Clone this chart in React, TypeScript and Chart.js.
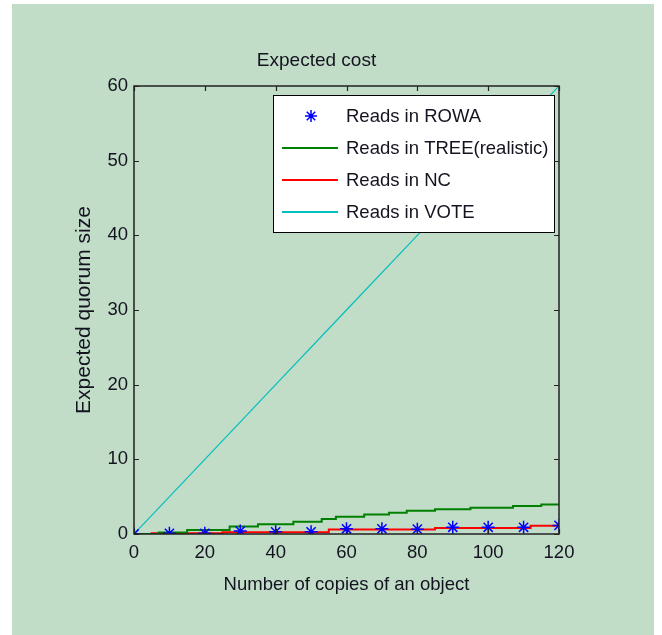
import React, { useEffect, useRef } from "react";
import { Chart, registerables } from "chart.js";

Chart.register(...registerables);

const FONT = "'Liberation Sans', Arial, Helvetica, sans-serif";
const TEXT = "#141420";

const TITLE = "Expected cost";
const X_TITLE = "Number of copies of an object";
const Y_TITLE = "Expected quorum size";

const X_TICKS = [0, 20, 40, 60, 80, 100, 120];
const Y_TICKS = [0, 10, 20, 30, 40, 50, 60];

const ROWA_X = [0, 10, 20, 30, 40, 50, 60, 70, 80, 90, 100, 110, 120];
const ROWA_READS = [0, 0.1, 0.1, 0.4, 0.3, 0.3, 0.7, 0.7, 0.65, 0.9, 0.9, 0.9, 1.15];

const TREE_X = [0, 7, 15, 27, 35, 45, 53, 57, 65, 72, 77, 85, 95, 107, 115, 120];
const TREE_READS = [0, 0.2, 0.55, 1.0, 1.3, 1.65, 2.0, 2.3, 2.6, 2.85, 3.1, 3.3, 3.5, 3.75, 3.95, 3.95];

const NC_X = [0, 5, 25, 55, 85, 112, 120];
const NC_READS = [0, 0.1, 0.25, 0.6, 0.8, 1.1, 1.1];

const VOTE_X = [0, 20, 40, 60, 80, 100, 120];
const VOTE_READS = [0, 10, 20, 30, 40, 50, 60];

const LABELS = ["Reads in ROWA", "Reads in TREE(realistic)", "Reads in NC", "Reads in VOTE"];
const COLORS = ["#0000ff", "#008000", "#ff0000", "#00bfbf"];

const pairs = (xs: number[], ys: number[]) => xs.map((x, i) => ({ x, y: ys[i] }));

const framePlugin = {
  id: "matlabFrame",
  afterDatasetsDraw(chart: any) {
    const { ctx, chartArea: a } = chart;
    ctx.save();
    const L = a.left + 139;
    const T = a.top + 9;
    const R = a.right - 5;
    const B = a.top + 146;
    ctx.fillStyle = "#ffffff";
    ctx.fillRect(L, T, R - L, B - T);
    ctx.strokeStyle = "#000";
    ctx.lineWidth = 1;
    ctx.strokeRect(L + 0.5, T + 0.5, R - L, B - T);
    chart.data.datasets.forEach((ds: any, i: number) => {
      const yy = T + 21 + i * 32;
      if (ds.showLine === false) {
        const cx = L + 38;
        const r = 6;
        ctx.strokeStyle = ds.borderColor;
        ctx.lineWidth = 1.5;
        ctx.beginPath();
        ctx.moveTo(cx - r, yy); ctx.lineTo(cx + r, yy);
        ctx.moveTo(cx, yy - r); ctx.lineTo(cx, yy + r);
        const d = r * 0.7071;
        ctx.moveTo(cx - d, yy - d); ctx.lineTo(cx + d, yy + d);
        ctx.moveTo(cx - d, yy + d); ctx.lineTo(cx + d, yy - d);
        ctx.stroke();
      } else {
        ctx.strokeStyle = ds.borderColor;
        ctx.lineWidth = 2;
        ctx.beginPath();
        ctx.moveTo(L + 9, yy);
        ctx.lineTo(L + 65, yy);
        ctx.stroke();
      }
      ctx.fillStyle = TEXT;
      ctx.font = `18.5px ${FONT}`;
      ctx.textBaseline = "middle";
      ctx.textAlign = "left";
      ctx.fillText(ds.label, L + 73, yy + 1);
    });
    ctx.restore();
  },
  afterDraw(chart: any) {
    const { ctx, chartArea: a, scales } = chart;
    ctx.save();
    ctx.strokeStyle = "#222";
    ctx.lineWidth = 1.5;
    ctx.strokeRect(a.left, a.top, a.right - a.left, a.bottom - a.top);
    const tl = 5;
    ctx.lineWidth = 1.2;
    ctx.beginPath();
    scales.x.ticks.forEach((t: any) => {
      const px = Math.round(scales.x.getPixelForValue(t.value)) + 0.5;
      ctx.moveTo(px, a.bottom); ctx.lineTo(px, a.bottom - tl);
      ctx.moveTo(px, a.top); ctx.lineTo(px, a.top + tl);
    });
    scales.y.ticks.forEach((t: any) => {
      const py = Math.round(scales.y.getPixelForValue(t.value)) + 0.5;
      ctx.moveTo(a.left, py); ctx.lineTo(a.left + tl, py);
      ctx.moveTo(a.right, py); ctx.lineTo(a.right - tl, py);
    });
    ctx.stroke();
    ctx.restore();
  },
};

export default function App() {
  const ref = useRef<HTMLCanvasElement | null>(null);
  useEffect(() => {
    if (!ref.current) return;
    const chart = new Chart(ref.current, {
      type: "line",
      data: {
        datasets: [
          {
            label: LABELS[0],
            data: pairs(ROWA_X, ROWA_READS),
            showLine: false,
            borderColor: COLORS[0],
            backgroundColor: COLORS[0],
            pointStyle: "star",
            pointRadius: 6.5,
            pointBorderWidth: 1.5,
          },
          {
            label: LABELS[1],
            data: pairs(TREE_X, TREE_READS),
            borderColor: COLORS[1],
            borderWidth: 2,
            stepped: "before",
            pointRadius: 0,
          },
          {
            label: LABELS[2],
            data: pairs(NC_X, NC_READS),
            borderColor: COLORS[2],
            borderWidth: 2,
            stepped: "before",
            pointRadius: 0,
          },
          {
            label: LABELS[3],
            data: pairs(VOTE_X, VOTE_READS),
            borderColor: COLORS[3],
            borderWidth: 1.2,
            pointRadius: 0,
          },
        ],
      } as any,
      options: {
        animation: false,
        responsive: false,
        maintainAspectRatio: false,
        layout: { padding: { left: 74, right: 103, top: 0, bottom: 41 } },
        plugins: {
          legend: { display: false },
          tooltip: { enabled: false },
          title: {
            display: true,
            text: TITLE,
            color: TEXT,
            font: { family: FONT, size: 19, weight: "normal", lineHeight: 1 },
            padding: { top: 51, bottom: 16 },
          },
        },
        scales: {
          x: {
            type: "linear",
            min: 0,
            max: 120,
            afterBuildTicks: (s: any) => { s.ticks = X_TICKS.map((v) => ({ value: v })); },
            afterFit: (s: any) => { s.height = 60; },
            grid: { display: false, drawTicks: false },
            border: { display: false },
            ticks: { color: TEXT, font: { family: FONT, size: 18.5 }, padding: 8, maxRotation: 0 },
            title: {
              display: true,
              text: X_TITLE,
              color: TEXT,
              font: { family: FONT, size: 18.5, lineHeight: 1 },
              padding: 0,
            },
          },
          y: {
            type: "linear",
            min: 0,
            max: 60,
            afterBuildTicks: (s: any) => { s.ticks = Y_TICKS.map((v) => ({ value: v })); },
            afterFit: (s: any) => { s.width = 60; },
            grid: { display: false, drawTicks: false },
            border: { display: false },
            ticks: { color: TEXT, font: { family: FONT, size: 18.5 }, padding: 6 },
            title: {
              display: true,
              text: Y_TITLE,
              color: TEXT,
              font: { family: FONT, size: 21, lineHeight: 1 },
              padding: 0,
            },
          },
        },
      } as any,
      plugins: [framePlugin],
    });
    return () => chart.destroy();
  }, []);

  return (
    <div style={{ position: "fixed", left: 0, top: 0, width: 662, height: 635, background: "#ffffff", overflow: "hidden" }}>
      <div style={{ position: "absolute", left: 12, top: 4, width: 642, height: 631, background: "#c1dcc7" }} />
      <canvas ref={ref} width={662} height={635} style={{ position: "absolute", left: 0, top: 0, width: 662, height: 635 }} />
    </div>
  );
}
